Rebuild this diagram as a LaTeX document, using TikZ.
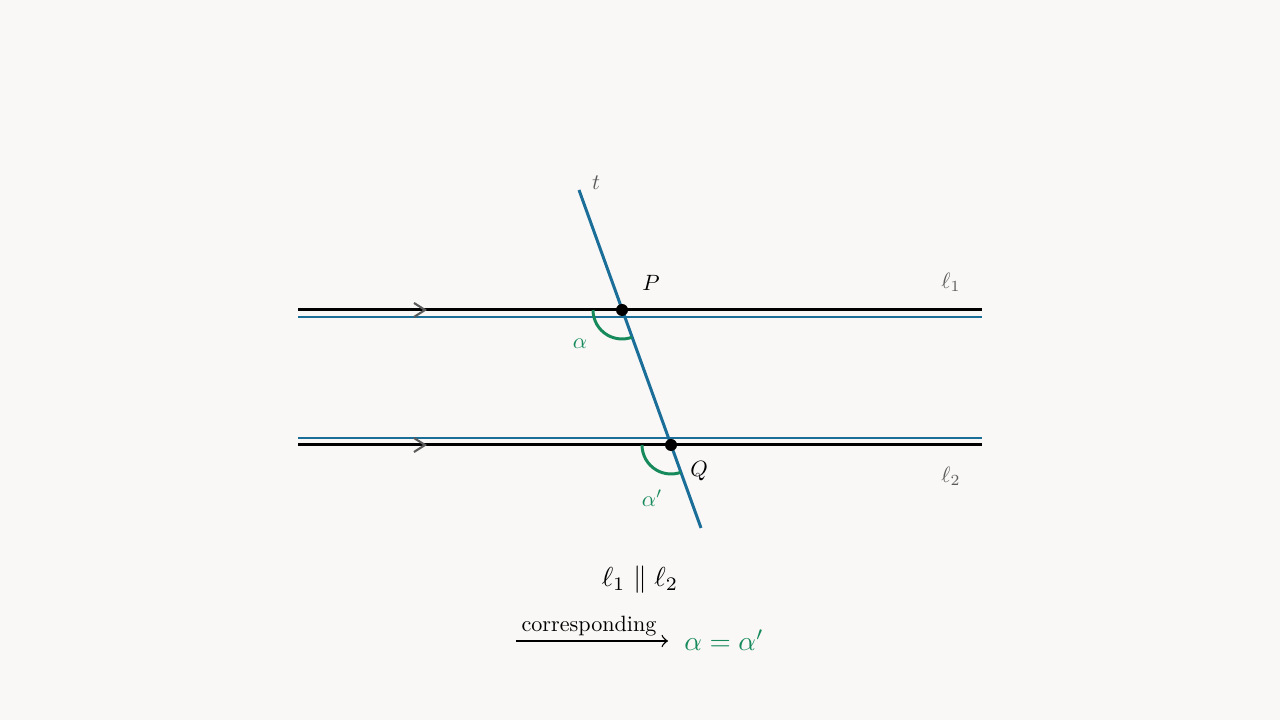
\documentclass[tikz,border=0pt]{standalone}
\usepackage{amsmath}
\usetikzlibrary{calc,angles,quotes}
\definecolor{fond}{HTML}{F9F8F7}
\definecolor{bleut}{HTML}{1A6E98}
\definecolor{vert}{HTML}{178A5C}
\definecolor{gris}{HTML}{5A5A5A}
\tikzset{
  droite/.style={line width=0.85pt,black},
  trait/.style={line width=0.4pt,bleut},
  fleche/.style={line width=0.6pt,gris},
  lbl/.style={font=\normalsize,inner sep=0pt,scale=0.63,transform shape},
  grand/.style={font=\normalsize,inner sep=0pt,scale=0.78,transform shape},
  arc/.style={draw=vert,line width=0.85pt,angle radius=0.29cm}
}
\begin{document}
\begin{tikzpicture}
	          %fond et cadre
	          \fill[fond] (0,0) rectangle (12.8,7.2);
	          \useasboundingbox (0,0) rectangle (12.8,7.2);
	          
	          %droites paralleles
	          \coordinate (l1w) at (2.98,4.10); \coordinate (l1e) at (9.82,4.10);
	          \coordinate (m1w) at (2.98,4.03); \coordinate (m1e) at (9.82,4.03);
	          \coordinate (l2w) at (2.98,2.75); \coordinate (l2e) at (9.82,2.75);
	          \coordinate (m2w) at (2.98,2.82); \coordinate (m2e) at (9.82,2.82);
	          \draw[trait] (m1w) -- (m1e);
	          \draw[trait] (m2w) -- (m2e);
	          \draw[droite] (l1w) -- (l1e);
	          \draw[droite] (l2w) -- (l2e);
	          
	          %fleches de parallelisme
	          \draw[fleche] (4.14,4.17) -- (4.25,4.10) -- (4.14,4.03);
	          \draw[fleche] (4.14,2.82) -- (4.25,2.75) -- (4.14,2.68);
	          
	          %secante t
	          \coordinate (t1) at (5.79,5.30); \coordinate (t2) at (7.01,1.92);
	          \coordinate (P) at (6.22,4.10); \coordinate (Q) at (6.71,2.75);
	          \draw[line width=0.85pt,bleut] (t1) -- (t2);
	          
	          %angles correspondants
	          \pic[arc] {angle = l1w--P--t2};
	          \pic[arc] {angle = l2w--Q--t2};
	          
	          \fill (P) circle (0.06);
	          \fill (Q) circle (0.06);
	          
	          %noms
	          \node[lbl,text=gris] (nt) at (5.96,5.37) {$t$};
	          \node[lbl] (nP) at (6.51,4.37) {$P$};
	          \node[lbl] (nQ) at (6.99,2.49) {$Q$};
	          \node[lbl,text=gris] (nl1) at (9.51,4.38) {$\ell_1$};
	          \node[lbl,text=gris] (nl2) at (9.51,2.44) {$\ell_2$};
	          \node[lbl,text=vert] (na) at (5.80,3.76) {$\alpha$};
	          \node[lbl,text=vert] (nb) at (6.52,2.22) {$\alpha'$};
	          
	          %conclusion
	          \node[grand] (par) at (6.40,1.40) {$\ell_1 \parallel \ell_2$};
	          \coordinate (fa) at (5.16,0.79); \coordinate (fb) at (6.68,0.79);
	          \draw[line width=0.4pt,-to] (fa) -- (fb);
	          \node[lbl] (corr) at (5.89,0.935) {corresponding};
	          \node[grand,text=vert] (eg) at (7.24,0.80) {$\alpha = \alpha'$};
\end{tikzpicture}
\end{document}
